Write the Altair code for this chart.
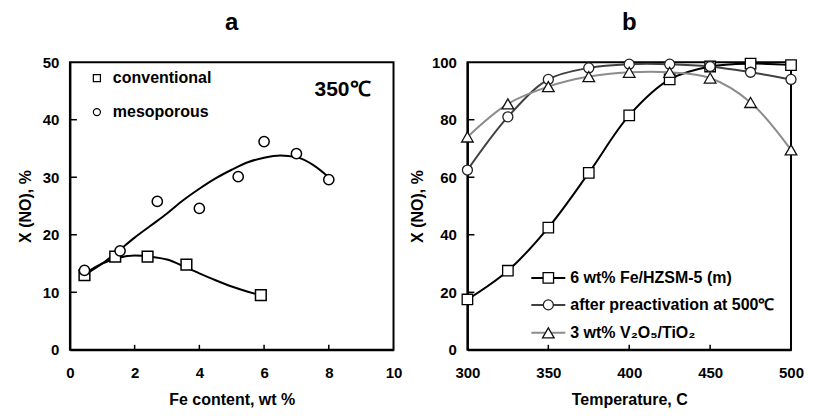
import altair as alt
import pandas as pd

FONT = "Liberation Sans"

# ---------------- Panel a data ----------------
conv_x = [0.45, 1.4, 2.4, 3.6, 5.9]
conv_y = [13.0, 16.2, 16.2, 14.8, 9.5]
meso_x = [0.45, 1.55, 2.7, 4.0, 5.2, 6.0, 7.0, 8.0]
meso_y = [13.8, 17.2, 25.8, 24.6, 30.1, 36.2, 34.1, 29.6]
# trend curves
conv_fit_x = [0.45, 1.0, 1.5, 2.0, 2.5, 3.0, 3.6, 4.0, 4.5, 5.0, 5.5, 5.9]
conv_fit_y = [13.2, 15.0, 16.0, 16.4, 16.2, 15.7, 14.3, 13.3, 12.1, 11.0, 10.1, 9.5]
meso_fit_x = [0.45, 1.0, 1.5, 2.0, 2.5, 3.0, 3.5, 4.0, 4.5, 5.0, 5.5, 6.0, 6.5, 7.0, 7.5, 8.0]
meso_fit_y = [13.0, 15.0, 17.2, 19.5, 21.6, 23.7, 26.0, 28.0, 29.8, 31.3, 32.6, 33.4, 33.8, 33.5, 32.2, 30.0]
xa_ticks = [0, 2, 4, 6, 8, 10]
ya_ticks = [0, 10, 20, 30, 40, 50]

# ---------------- Panel b data ----------------
temps = [300, 325, 350, 375, 400, 425, 450, 475, 500]
fe_hzsm = [17.5, 27.5, 42.5, 61.5, 81.5, 94.0, 98.5, 99.5, 99.0]
preact = [62.5, 81.0, 94.0, 98.0, 99.3, 99.3, 98.5, 96.5, 94.0]
v2o5 = [74.0, 85.5, 91.5, 95.0, 96.5, 96.5, 94.5, 86.0, 69.5]
xb_ticks = [300, 350, 400, 450, 500]
yb_ticks = [0, 20, 40, 60, 80, 100]

W, H = 324, 288
one = pd.DataFrame({"k": [0]})


def inner_ticks(xt, yt, xs, ys):
    tx = alt.Chart(pd.DataFrame({"t": xt[1:-1]})).mark_rule(color="black", strokeWidth=1.5).encode(
        x=alt.X("t:Q", scale=xs), y=alt.value(H), y2=alt.value(H - 5))
    ty = alt.Chart(pd.DataFrame({"t": yt[1:-1]})).mark_rule(color="black", strokeWidth=1.5).encode(
        y=alt.Y("t:Q", scale=ys), x=alt.value(0), x2=alt.value(7))
    return [tx, ty]


def label(txt, x, y, size=16, align="left"):
    return alt.Chart(one).mark_text(text=txt, align=align, baseline="middle", font=FONT, fontSize=size,
                                    fontWeight="bold", color="black").encode(x=alt.value(x), y=alt.value(y))


# ---------------- Panel a ----------------
xa = alt.Scale(domain=[0, 10], nice=False)
ya = alt.Scale(domain=[0, 50], nice=False)
xa_axis = alt.Axis(values=xa_ticks, ticks=False, labelFlush=False, labelPadding=16,
                   title="Fe content, wt %", titlePadding=11)
ya_axis = alt.Axis(values=ya_ticks, ticks=False, labelFlush=False, labelPadding=11,
                   title="X (NO), %", titlePadding=9)

fit_a = pd.concat([
    pd.DataFrame({"x": conv_fit_x, "y": conv_fit_y, "s": "conventional"}),
    pd.DataFrame({"x": meso_fit_x, "y": meso_fit_y, "s": "mesoporous"}),
])
lines_a = alt.Chart(fit_a).mark_line(color="black", strokeWidth=2, interpolate="monotone").encode(
    x=alt.X("x:Q", scale=xa, axis=xa_axis),
    y=alt.Y("y:Q", scale=ya, axis=ya_axis),
    detail="s:N",
)
pts_conv = alt.Chart(pd.DataFrame({"x": conv_x, "y": conv_y})).mark_point(
    shape="square", filled=True, fill="white", stroke="black", strokeWidth=1.5, size=115, opacity=1
).encode(x=alt.X("x:Q", scale=xa), y=alt.Y("y:Q", scale=ya))
pts_meso = alt.Chart(pd.DataFrame({"x": meso_x, "y": meso_y})).mark_point(
    shape="circle", filled=True, fill="white", stroke="black", strokeWidth=1.5, size=105, opacity=1
).encode(x=alt.X("x:Q", scale=xa), y=alt.Y("y:Q", scale=ya))
leg_a = [
    alt.Chart(one).mark_point(shape="square", filled=True, fill="white", stroke="black", strokeWidth=1.2, size=50, opacity=1)
    .encode(x=alt.value(27), y=alt.value(16)),
    alt.Chart(one).mark_point(shape="circle", filled=True, fill="white", stroke="black", strokeWidth=1.2, size=50, opacity=1)
    .encode(x=alt.value(27), y=alt.value(50)),
    label("conventional", 43, 16),
    label("mesoporous", 43, 50),
    label("350℃", 301, 28, size=21, align="right"),
]
panel_a = alt.layer(lines_a, *inner_ticks(xa_ticks, ya_ticks, xa, ya), pts_conv, pts_meso, *leg_a).properties(
    width=W, height=H,
    title=alt.TitleParams("a", fontSize=24, fontWeight="bold", font=FONT, anchor="middle", offset=20, color="black"),
)

# ---------------- Panel b ----------------
xb = alt.Scale(domain=[300, 500], nice=False)
yb = alt.Scale(domain=[0, 100], nice=False)
xb_axis = alt.Axis(values=xb_ticks, ticks=False, labelFlush=False, labelPadding=16,
                   title="Temperature, C", titlePadding=11)
yb_axis = alt.Axis(values=yb_ticks, ticks=False, labelFlush=False, labelPadding=11,
                   title="X (NO), %", titlePadding=6)

series = [
    ("6 wt% Fe/HZSM-5 (m)", fe_hzsm, "square", "black", "black"),
    ("after preactivation at 500℃", preact, "circle", "#404040", "#222222"),
    ("3 wt% V₂O₅/TiO₂", v2o5, "triangle-up", "#8c8c8c", "#111111"),
]
layers_b, pts_b, leg_b = [], [], []
rows = [216, 243, 271]
for i, (name, vals, shp, lc, mc) in enumerate(series):
    df = pd.DataFrame({"x": temps, "y": vals})
    enc_x = alt.X("x:Q", scale=xb, axis=xb_axis) if i == 0 else alt.X("x:Q", scale=xb)
    enc_y = alt.Y("y:Q", scale=yb, axis=yb_axis) if i == 0 else alt.Y("y:Q", scale=yb)
    layers_b.append(alt.Chart(df).mark_line(color=lc, strokeWidth=2, interpolate="catmull-rom", clip=False)
                    .encode(x=enc_x, y=enc_y))
    size = {"square": 110, "circle": 100, "triangle-up": 135}[shp]
    pts_b.append(alt.Chart(df).mark_point(shape=shp, filled=True, fill="white", stroke=mc, strokeWidth=1.3,
                                          size=size, opacity=1, clip=False)
                 .encode(x=alt.X("x:Q", scale=xb), y=alt.Y("y:Q", scale=yb)))
    r = rows[i]
    leg_b.append(alt.Chart(one).mark_rule(color=lc, strokeWidth=2).encode(x=alt.value(64), x2=alt.value(98), y=alt.value(r)))
    leg_b.append(alt.Chart(one).mark_point(shape=shp, filled=True, fill="white", stroke=mc, strokeWidth=1.3,
                                           size=size, opacity=1).encode(x=alt.value(81), y=alt.value(r)))
    leg_b.append(label(name, 103, r))
panel_b = alt.layer(*layers_b, *inner_ticks(xb_ticks, yb_ticks, xb, yb), *pts_b, *leg_b).properties(
    width=W, height=H,
    title=alt.TitleParams("b", fontSize=24, fontWeight="bold", font=FONT, anchor="middle", offset=20, color="black"),
)

chart = alt.hconcat(panel_a, panel_b, spacing=4).properties(
    padding={"left": 8, "top": 2, "right": 0, "bottom": 0}, background="white"
).configure_view(stroke="black", strokeWidth=2).configure_axis(
    labelFont=FONT, labelFontSize=15, labelFontWeight="bold", labelColor="black",
    titleFont=FONT, titleFontSize=16, titleFontWeight="bold", titleColor="black",
    domainColor="black", domainWidth=2, grid=False,
)

chart.save("out.html", embed_options={"renderer": "svg", "actions": False})
